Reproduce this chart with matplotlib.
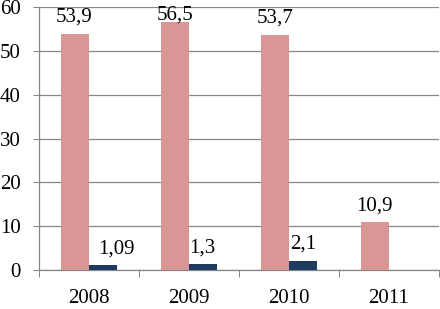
import matplotlib
matplotlib.use("Agg")
import matplotlib.pyplot as plt
import numpy as np

categories = ["2008", "2009", "2010", "2011"]
series_a = [53.9, 56.5, 53.7, 10.9]
series_b = [1.09, 1.3, 2.1, None]
labels_a = ["53,9", "56,5", "53,7", "10,9"]
labels_b = ["1,09", "1,3", "2,1", ""]
yticks = [0, 10, 20, 30, 40, 50, 60]

plt.rcParams['font.family'] = ['Liberation Serif', 'DejaVu Serif']
FS = 15
fig = plt.figure(figsize=(4.4, 3.09), dpi=100)
ax = fig.add_axes([38.5/440, 39/309, 400.5/440, 263/309])

x = np.arange(len(categories))
w = 0.28
pink = "#D99694"
navy = "#1F3A60"
grey = "#868686"
ax.bar(x - w/2, series_a, width=w, color=pink, zorder=3)
bx = [xi + w/2 for xi, v in zip(x, series_b) if v is not None]
bv = [v for v in series_b if v is not None]
ax.bar(bx, bv, width=w, color=navy, zorder=3)

gap = 12 * 60 / 263  # 12 px above bar top, in data units
ymax_label = 57.1
for xi, v, l in zip(x, series_a, labels_a):
    ax.text(xi - w/2, min(v + gap, ymax_label), l, ha="center", va="baseline",
            fontsize=FS, zorder=4)
# the first small-bar label sits shifted to the right in the reference
x_shift_px = [14, 0, 0, 0]
for xi, v, l, dx in zip(x, series_b, labels_b, x_shift_px):
    if v is not None:
        ax.annotate(l, (xi + w/2, v + gap), xytext=(dx * 0.72, 0),
                    textcoords="offset points", ha="center", va="baseline",
                    fontsize=FS, zorder=4)

ax.set_xlim(-0.5, len(categories) - 0.5)
ax.set_ylim(0, 60)
ax.set_yticks(yticks)
ax.set_yticklabels([str(t) for t in yticks], fontsize=FS)
ax.set_xticks(x)
ax.set_xticklabels(categories, fontsize=FS)
ax.set_xticks(np.arange(len(categories) + 1) - 0.5, minor=True)
ax.tick_params(axis="x", which="major", length=0, pad=14)
ax.tick_params(axis="x", which="minor", length=5, width=0.75, color=grey, direction="out")
ax.tick_params(axis="y", length=4, width=0.75, color=grey, direction="out", pad=9)
ax.yaxis.grid(True, color=grey, linewidth=0.9, zorder=0)
for s in ["top", "right"]:
    ax.spines[s].set_visible(False)
for s in ["left", "bottom"]:
    ax.spines[s].set_color(grey)
    ax.spines[s].set_linewidth(0.9)
ax.set_axisbelow(True)

fig.savefig("out.png", dpi=100)
